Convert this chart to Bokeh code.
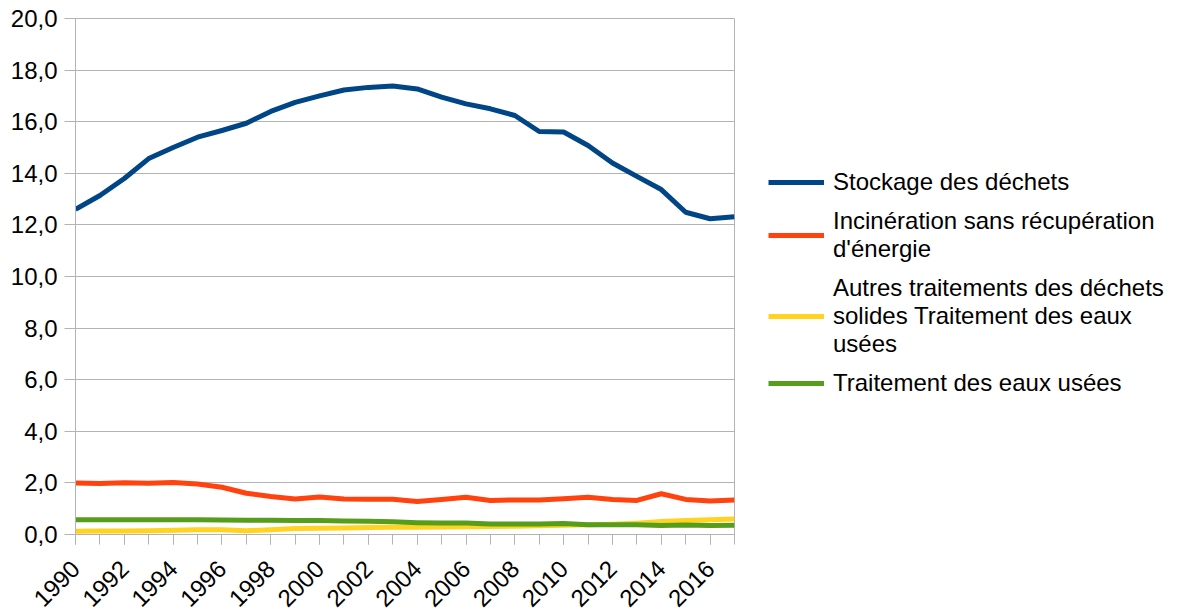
from bokeh.plotting import figure
from bokeh.models import Legend, LegendItem, FixedTicker, SingleIntervalTicker, Range1d
from bokeh.embed import file_html
from bokeh.resources import INLINE

years = list(range(1990, 2018))
stockage = [12.6, 13.14, 13.8, 14.57, 15.0, 15.4, 15.66, 15.94, 16.4, 16.75, 17.0, 17.23,
            17.33, 17.38, 17.27, 16.95, 16.69, 16.5, 16.24, 15.62, 15.6, 15.08, 14.4, 13.88,
            13.37, 12.49, 12.24, 12.32]
incineration = [2.0, 1.98, 2.01, 1.99, 2.02, 1.96, 1.83, 1.6, 1.47, 1.38, 1.45, 1.38,
                1.37, 1.37, 1.28, 1.36, 1.44, 1.32, 1.34, 1.34, 1.39, 1.44, 1.36, 1.32,
                1.58, 1.36, 1.3, 1.34]
autres = [0.13, 0.14, 0.14, 0.15, 0.16, 0.18, 0.18, 0.15, 0.18, 0.23, 0.24, 0.25,
          0.27, 0.28, 0.28, 0.29, 0.3, 0.31, 0.32, 0.34, 0.36, 0.38, 0.4, 0.44,
          0.5, 0.54, 0.57, 0.6]
eaux = [0.57, 0.57, 0.57, 0.57, 0.57, 0.57, 0.56, 0.55, 0.55, 0.54, 0.54, 0.52,
        0.51, 0.49, 0.46, 0.45, 0.45, 0.41, 0.41, 0.41, 0.43, 0.38, 0.38, 0.38,
        0.35, 0.37, 0.35, 0.36]

series_names = ["Stockage des déchets",
                "Incinération sans récupération\nd'énergie",
                "Autres traitements des déchets\nsolides Traitement des eaux\nusées",
                "Traitement des eaux usées"]
series_colors = ["#004586", "#ff420e", "#ffd320", "#579d1c"]
y_ticks = [0, 2, 4, 6, 8, 10, 12, 14, 16, 18, 20]
y_tick_labels = ["0,0", "2,0", "4,0", "6,0", "8,0", "10,0", "12,0", "14,0", "16,0", "18,0", "20,0"]

FONT = "Liberation Sans"
GRID = "#b3b3b3"

p = figure(frame_width=659, frame_height=516,
           output_backend="svg", toolbar_location=None,
           x_range=Range1d(1990, 2017), y_range=Range1d(0, 20),
           min_border_left=75, min_border_top=18, min_border_bottom=78,
           min_border_right=0)

renderers = []
for data, color in zip([stockage, incineration, autres, eaux], series_colors):
    r = p.line(years, data, line_color=color, line_width=5, line_join="round")
    renderers.append(r)

p.outline_line_color = GRID
p.outline_line_width = 1
p.background_fill_color = "white"
p.border_fill_color = "white"

p.xgrid.visible = False
p.ygrid.grid_line_color = GRID
p.ygrid.grid_line_width = 1

p.yaxis.ticker = FixedTicker(ticks=y_ticks)
p.yaxis.major_label_overrides = {t: l for t, l in zip(y_ticks, y_tick_labels)}
p.yaxis.minor_tick_line_color = None
p.yaxis.major_tick_out = 11
p.yaxis.major_tick_in = 0
p.yaxis.major_label_standoff = 7

p.xaxis.ticker = SingleIntervalTicker(interval=2, num_minor_ticks=2)
p.xaxis.minor_tick_out = 10
p.xaxis.minor_tick_in = 0
p.xaxis.major_tick_out = 10
p.xaxis.major_tick_in = 0
p.xaxis.major_label_orientation = 0.785398
p.xaxis.major_label_standoff = 20

for ax in [p.xaxis[0], p.yaxis[0]]:
    ax.axis_line_color = GRID
    ax.major_tick_line_color = GRID
    ax.major_label_text_font = FONT
    ax.major_label_text_font_size = "24px"
    ax.major_label_text_color = "black"
p.xaxis.minor_tick_line_color = GRID

items = [LegendItem(label=n, renderers=[r]) for n, r in zip(series_names, renderers)]
legend = Legend(items=items, location=(34, 137), padding=0, margin=34,
                border_line_alpha=0, background_fill_alpha=0,
                glyph_width=56, glyph_height=20, label_standoff=9, spacing=11,
                label_text_font=FONT, label_text_font_size="24px",
                label_text_color="black", label_text_line_height=1.34)
p.add_layout(legend, "right")

open("out.html", "w").write(file_html(p, INLINE))
